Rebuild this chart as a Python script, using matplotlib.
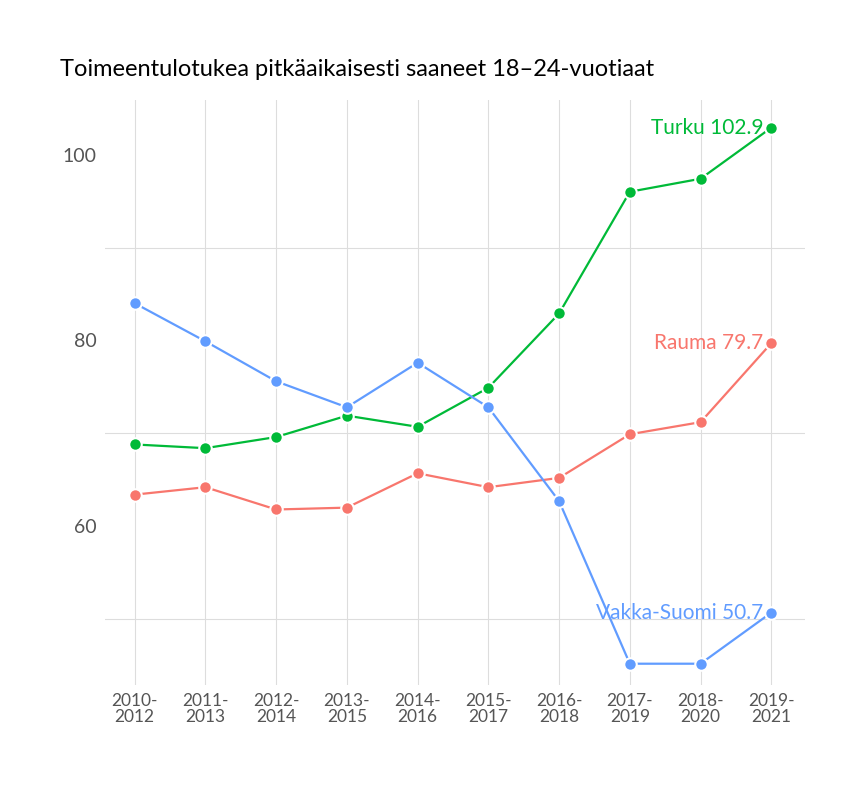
import matplotlib
matplotlib.use("Agg")
import matplotlib.pyplot as plt

plt.rcParams['font.family'] = ['Lato', 'DejaVu Sans']

periods = ["2010-\n2012","2011-\n2013","2012-\n2014","2013-\n2015","2014-\n2016",
           "2015-\n2017","2016-\n2018","2017-\n2019","2018-\n2020","2019-\n2021"]
turku = [68.8, 68.4, 69.6, 71.9, 70.7, 74.9, 82.9, 96.0, 97.4, 102.9]
rauma = [63.4, 64.2, 61.8, 62.0, 65.7, 64.2, 65.2, 69.9, 71.2, 79.7]
vakka = [84.0, 79.9, 75.6, 72.8, 77.6, 72.8, 62.7, 45.2, 45.2, 50.7]
names = ["Turku", "Rauma", "Vakka-Suomi"]
colors = ["#00BA38", "#F8766D", "#619CFF"]

fig = plt.figure(figsize=(8.64, 7.92), dpi=100)
ax = fig.add_axes([0.1215, 0.135, 0.8105, 0.739])
x = list(range(len(periods)))
for name, vals, c in zip(names, [turku, rauma, vakka], colors):
    ax.plot(x, vals, color=c, lw=1.6, marker='o', markersize=9,
            markeredgecolor='white', markeredgewidth=1.5, zorder=3)
    ax.text(x[-1] - 0.11, vals[-1], f"{name} {vals[-1]}", color=c, fontsize=15,
            ha='right', va='center', zorder=4)

ax.set_xlim(-0.42, 9.48)
ax.set_ylim(42.9, 105.9)
ax.set_xticks(x)
ax.set_xticklabels(periods, fontsize=12.5, color='#555555', linespacing=1.0)
ax.set_yticks([60, 80, 100])
ax.set_yticklabels(['60', '80', '100'], fontsize=14, color='#555555')
ax.grid(False)
for xi in x:
    ax.axvline(xi, color='#dddddd', lw=0.8, zorder=0)
for yv in [50, 70, 90]:
    ax.axhline(yv, color='#dddddd', lw=0.8, zorder=0)
for s in ax.spines.values():
    s.set_visible(False)
ax.tick_params(length=0, which='both', pad=6)
fig.text(0.0695, 0.912, "Toimeentulotukea pitkäaikaisesti saaneet 18–24-vuotiaat",
         fontsize=17, ha='left', va='center')
fig.savefig("out.png", dpi=100)
